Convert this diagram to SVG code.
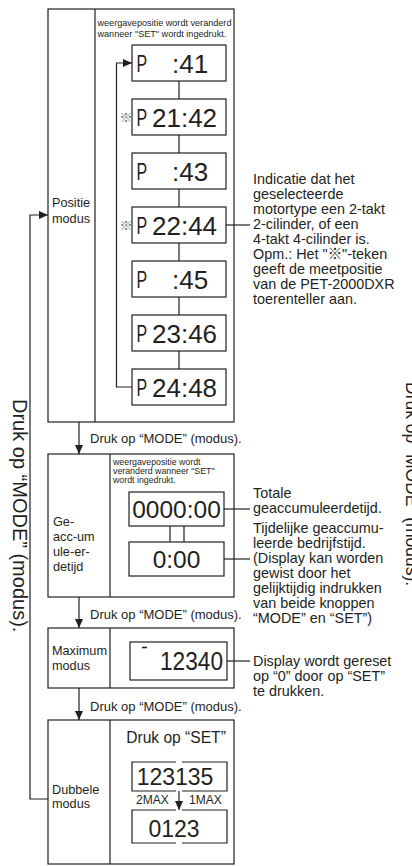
<svg xmlns="http://www.w3.org/2000/svg" width="412" height="866" viewBox="0 0 412 866">
<defs>
<marker id="ah" markerWidth="9" markerHeight="8" refX="9" refY="4" orient="auto" markerUnits="userSpaceOnUse"><path d="M0,0 L9,4 L0,8 z" fill="#231f20"/></marker>
</defs>
<style>
.ln{fill:none;stroke:#231f20;stroke-width:1.2}
.bx{fill:#fff;stroke:#231f20;stroke-width:1.2}
.t{font-family:"Liberation Sans",Arial,"Noto Sans CJK JP",sans-serif;fill:#231f20}
.s9{font-size:9.1px}
.s8{font-size:8.8px}
.lab{font-size:12.7px}
.ann{font-size:14.4px}
.drk{font-size:13px}
.dig{font-size:26px}
.dig2{font-size:24.5px}
.dig3{font-size:23px}
.pseg{font-size:23.5px}
.kome{font-family:"Noto Sans CJK JP",sans-serif;font-size:13px;fill:#707070}
</style>
<rect width="412" height="866" fill="#fff"/>

<g id="positie-modus">
<rect class="bx" x="48" y="9" width="186" height="413"/>
<line class="ln" x1="95" y1="9" x2="95" y2="422"/>
<text class="t lab" x="52" y="207">Positie</text>
<text class="t lab" x="52" y="223">modus</text>
<text class="t s9" x="97.5" y="26">weergavepositie wordt veranderd</text>
<text class="t s9" x="97.5" y="37">wanneer "SET" wordt ingedrukt.</text>
</g>

<g id="disp-41"><rect class="bx" x="132" y="45" width="94" height="36"/><text class="t pseg" transform="translate(136.5,72) scale(0.68,1)">P</text><text class="t dig" x="172" y="72.5">:41</text></g>
<g id="disp-2142"><text class="kome" x="119.5" y="122">※</text><rect class="bx" x="132" y="99" width="94" height="36"/><text class="t pseg" transform="translate(136.5,126) scale(0.68,1)">P</text><text class="t dig" x="152" y="126.5">21:42</text></g>
<g id="disp-43"><rect class="bx" x="132" y="153" width="94" height="36"/><text class="t pseg" transform="translate(136.5,180) scale(0.68,1)">P</text><text class="t dig" x="172" y="180.5">:43</text></g>
<g id="disp-2244"><text class="kome" x="119.5" y="230">※</text><rect class="bx" x="132" y="207" width="94" height="36"/><text class="t pseg" transform="translate(136.5,234) scale(0.68,1)">P</text><text class="t dig" x="152" y="234.5">22:44</text></g>
<g id="disp-45"><rect class="bx" x="132" y="261" width="94" height="36"/><text class="t pseg" transform="translate(136.5,288) scale(0.68,1)">P</text><text class="t dig" x="172" y="288.5">:45</text></g>
<g id="disp-2346"><rect class="bx" x="132" y="315" width="94" height="36"/><text class="t pseg" transform="translate(136.5,342) scale(0.68,1)">P</text><text class="t dig" x="152" y="342.5">23:46</text></g>
<g id="disp-2448"><rect class="bx" x="132" y="369" width="94" height="36"/><text class="t pseg" transform="translate(136.5,396) scale(0.68,1)">P</text><text class="t dig" x="152" y="396.5">24:48</text></g>

<g id="note-positie" class="t ann">
<text x="253" y="184">Indicatie dat het</text>
<text x="253" y="199">geselecteerde</text>
<text x="253" y="214">motortype een 2-takt</text>
<text x="253" y="229">2-cilinder, of een</text>
<text x="253" y="244">4-takt 4-cilinder is.</text>
<text x="253" y="259">Opm.: Het "※"-teken</text>
<text x="253" y="274">geeft de meetpositie</text>
<text x="253" y="289">van de PET-2000DXR</text>
<text x="253" y="304">toerenteller aan.</text>
</g>

<g id="geacc-modus">
<rect class="bx" x="48" y="454" width="186" height="143"/>
<line class="ln" x1="110" y1="454" x2="110" y2="597"/>
<text class="t lab" x="53" y="526">Ge-</text>
<text class="t lab" x="53" y="541">acc-um</text>
<text class="t lab" x="53" y="556">ule-er-</text>
<text class="t lab" x="53" y="571">detijd</text>
<text class="t s8" x="113" y="465">weergavepositie wordt</text>
<text class="t s8" x="113" y="474">veranderd wanneer "SET"</text>
<text class="t s8" x="113" y="483">wordt ingedrukt.</text>
</g>
<g id="disp-total"><rect class="bx" x="129" y="492" width="95" height="34"/><text class="t dig2" x="176.5" y="518" text-anchor="middle">0000:00</text></g>
<g id="disp-temp"><rect class="bx" x="129" y="542" width="95" height="34"/><text class="t dig2" x="176.5" y="568" text-anchor="middle">0:00</text></g>
<g id="note-geacc" class="t ann">
<text x="253" y="498">Totale</text>
<text x="253" y="513">geaccumuleerdetijd.</text>
<text x="253" y="533">Tijdelijke geaccumu-</text>
<text x="253" y="548">leerde bedrijfstijd.</text>
<text x="253" y="563">(Display kan worden</text>
<text x="253" y="578">gewist door het</text>
<text x="253" y="593">gelijktijdig indrukken</text>
<text x="253" y="608">van beide knoppen</text>
<text x="253" y="623">“MODE” en “SET”)</text>
</g>

<g id="maximum-modus">
<rect class="bx" x="48" y="628" width="186" height="60"/>
<line class="ln" x1="110" y1="628" x2="110" y2="688"/>
<text class="t lab" x="52" y="655">Maximum</text>
<text class="t lab" x="52" y="670">modus</text>
</g>
<g id="disp-max"><rect class="bx" x="130" y="642" width="97" height="38"/><line class="ln" x1="142" y1="647.5" x2="147" y2="647.5" style="stroke-width:1.6"/><text class="t" x="160" y="670" style="font-size:25px" textLength="63" lengthAdjust="spacingAndGlyphs">12340</text></g>
<g id="note-max" class="t ann">
<text x="253" y="666">Display wordt gereset</text>
<text x="253" y="681">op “0” door op “SET”</text>
<text x="253" y="696">te drukken.</text>
</g>

<g id="dubbele-modus">
<rect class="bx" x="48" y="720" width="186" height="144"/>
<line class="ln" x1="110" y1="720" x2="110" y2="864"/>
<text class="t lab" x="52" y="794">Dubbele</text>
<text class="t lab" x="52" y="808">modus</text>
<text class="t" x="176" y="743" text-anchor="middle" style="font-size:15.6px">Druk op “SET”</text>
</g>
<g id="disp-123135"><path class="ln" d="M176,762 H132 V791 H176 M182,762 H227 V791 H182"/><text class="t dig3" x="175" y="785" text-anchor="middle">123135</text>
<text class="t" x="136" y="804" style="font-size:12px">2MAX</text><text class="t" x="189" y="804" style="font-size:12px">1MAX</text></g>
<g id="disp-0123"><path class="ln" d="M176,810 H132 V843 H176 M182,810 H227 V843 H182"/><text class="t dig3" x="174" y="837" text-anchor="middle">0123</text></g>

<g id="connectors">
<path class="ln" d="M179,81 V99 M179,135 V153 M179,189 V207 M179,243 V261 M179,297 V315 M179,351 V369"/>
<path class="ln" d="M132,387 H116.5 V63 H132" marker-end="url(#ah)"/>
<line class="ln" x1="226" y1="225" x2="250" y2="225"/>
<path class="ln" d="M170,526 V542 M184,526 V542"/>
<line class="ln" x1="224" y1="509" x2="250" y2="509"/>
<line class="ln" x1="224" y1="559" x2="250" y2="559"/>
<line class="ln" x1="227" y1="661" x2="250" y2="661"/>
<line class="ln" x1="79" y1="422" x2="79" y2="454" marker-end="url(#ah)"/>
<line class="ln" x1="79" y1="597" x2="79" y2="628" marker-end="url(#ah)"/>
<line class="ln" x1="79" y1="688" x2="79" y2="720" marker-end="url(#ah)"/>
<line class="ln" x1="179" y1="791" x2="179" y2="810" marker-end="url(#ah)"/>
<path class="ln" d="M48,799 H30 V215 H48" marker-end="url(#ah)"/>
<text class="t drk" x="90" y="443">Druk op “MODE” (modus).</text>
<text class="t drk" x="90" y="619">Druk op “MODE” (modus).</text>
<text class="t drk" x="90" y="711">Druk op “MODE” (modus).</text>
<text class="t" style="font-size:20px" transform="translate(13,399) rotate(90)">Druk op “MODE” (modus).</text>
<text class="t" style="font-size:17.5px" transform="translate(406,382) rotate(90)">Druk op “MODE” (modus).</text>
</g>
</svg>
